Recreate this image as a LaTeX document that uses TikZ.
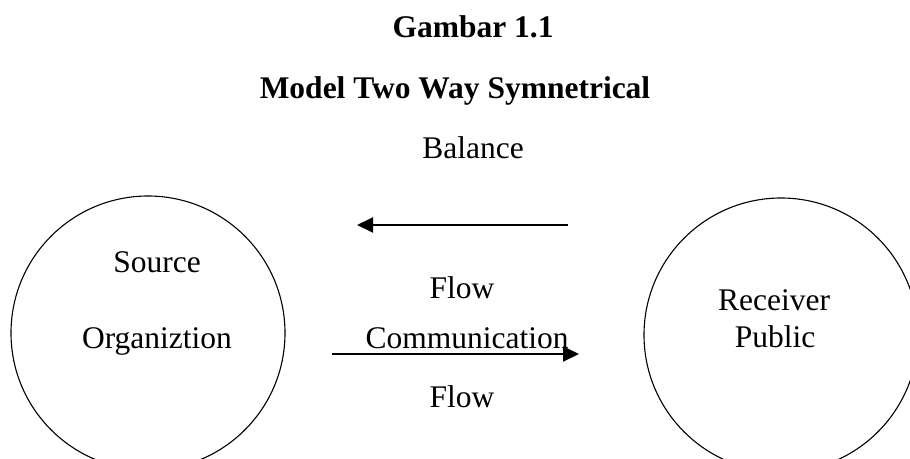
\documentclass[tikz,border=0pt]{standalone}
\usepackage{fontspec}
\setmainfont{Liberation Serif}
\usetikzlibrary{arrows.meta}
\tikzset{
  txt/.style={anchor=base, inner sep=0pt, font=\fontsize{31.5}{36}\selectfont},
  ttl/.style={txt, font=\fontsize{31.5}{36}\selectfont\bfseries},
  party/.style={circle, draw, line width=1.1pt, minimum size=274pt, inner sep=0pt},
  flow/.style={line width=1.9pt, -{Triangle[length=16pt,width=15pt]}}
}
\begin{document}
\begin{tikzpicture}[x=1pt,y=-1pt]
  \clip (0,0) rectangle (910,458);
  \fill[white] (0,0) rectangle (910,458);

  % headings
  \node[ttl] (t1) at (473,37) {Gambar 1.1};
  \node[ttl] (t2) at (455,98) {Model Two Way Symnetrical};
  \node[txt] (bal) at (473,158) {Balance};

  % the two parties
  \node[party] (src) at (148,333) {};
  \node[party] (rcv) at (781,335) {};
  \node[txt] (s1) at (157,272) {Source};
  \node[txt] (s2) at (157,348) {Organiztion};
  \node[txt] (r1) at (774,310) {Receiver};
  \node[txt] (r2) at (775,347) {Public};

  % flow labels
  \node[txt] (f1) at (462,298) {Flow};
  \node[txt] (cm) at (467,348) {Communication};
  \node[txt] (f2) at (462,407) {Flow};

  % arrows between the parties
  \coordinate (a1) at (568,225);
  \coordinate (a2) at (357,225);
  \coordinate (b1) at (332,354);
  \coordinate (b2) at (579,354);
  \draw[flow] (a1) -- (a2);
  \draw[flow] (b1) -- (b2);
\end{tikzpicture}
\end{document}
